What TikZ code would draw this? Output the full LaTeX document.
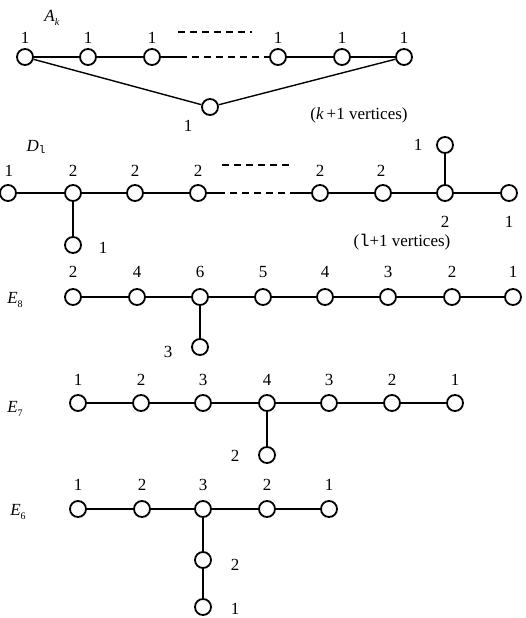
\documentclass[tikz,border=0pt]{standalone}
\usepackage{fontspec}
\setmainfont{Liberation Serif}
\setmonofont{Liberation Mono}
\newcommand{\lbl}[2]{\textit{#1}\raisebox{-4pt}{\fontsize{10}{11}\selectfont #2}}
\begin{document}
\begin{tikzpicture}[x=1pt,y=-1pt,
  vtx/.style={circle,draw,line width=1.8pt,minimum size=16pt,inner sep=0pt},
  num/.style={inner sep=0pt,font=\fontsize{17}{20}\selectfont},
  edge/.style={line width=1.4pt},
  dsh/.style={line width=1.4pt,dash pattern=on 7pt off 5pt}]
\useasboundingbox (0,0) rectangle (525,618);
% ---------- A_k ----------
\node[num] (Ak) at (52,18) {\lbl{A}{\textit{k}}};
\foreach \n/\x in {1/25,2/88,3/152,4/278,5/342,6/404}{
  \node[vtx] (a\n) at (\x,57) {};
  \node[num] (la\n) at (\x,38) {1};
}
\node[vtx] (a0) at (210,107) {};
\node[num] (la0) at (188,126) {1};
\node[num] (ak) at (359,115) {(\textit{k}\,+1 vertices)};
\coordinate (ad1) at (178,32); \coordinate (ad2) at (252,32);
\coordinate (am1) at (180,57); \coordinate (am2) at (264,57);
\draw[dsh] (ad1) -- (ad2);
\draw[edge] (a1) -- (a2) -- (a3) -- (am1);
\draw[dsh] (am1) -- (am2);
\draw[edge] (am2) -- (a4) -- (a5) -- (a6);
\draw[edge] (a1) -- (a0) -- (a6);
% ---------- D_l ----------
\node[num] (Dl) at (36,147) {\textit{D}\raisebox{-2pt}{\fontsize{11}{11}\selectfont\texttt{l}}};
\foreach \n/\x/\t in {1/9/1,2/73/2,3/135/2,4/198/2,5/320/2,6/381/2}{
  \node[num] (ld\n) at (\x,171) {\t};
}
\foreach \n/\x in {1/8,2/73,3/135,4/198,5/320,6/383,7/445,8/509}{
  \node[vtx] (d\n) at (\x,193) {};
}
\node[vtx] (d9) at (73,245) {};
\node[vtx] (d10) at (445,145) {};
\node[num] (ld10) at (418,145) {1};
\node[num] (ld7) at (445,222) {2};
\node[num] (ld8) at (509,222) {1};
\node[num] (ld9) at (103,248) {1};
\node[num] (dl) at (402,242) {(\texttt{l}+1 vertices)};
\coordinate (dd1) at (222,165); \coordinate (dd2) at (294,165);
\coordinate (dm1) at (218,193); \coordinate (dm2) at (292,193);
\draw[dsh] (dd1) -- (dd2);
\draw[edge] (d1) -- (d2) -- (d3) -- (d4) -- (dm1);
\draw[dsh] (dm1) -- (dm2);
\draw[edge] (dm2) -- (d5) -- (d6) -- (d7) -- (d8);
\draw[edge] (d2) -- (d9);
\draw[edge] (d7) -- (d10);
% ---------- E_8 ----------
\node[num] (E8) at (15,300) {\lbl{E}{8}};
\foreach \n/\x/\t in {1/73/2,2/137/4,3/200/6,4/263/5,5/325/4,6/388/3,7/452/2,8/513/1}{
  \node[vtx] (e\n) at (\x,297) {};
  \node[num] (le\n) at (\x,272) {\t};
}
\node[vtx] (e9) at (200,347) {};
\node[num] (le9) at (168,352) {3};
\draw[edge] (e1) -- (e2) -- (e3) -- (e4) -- (e5) -- (e6) -- (e7) -- (e8);
\draw[edge] (e3) -- (e9);
% ---------- E_7 ----------
\node[num] (E7) at (15,409) {\lbl{E}{7}};
\foreach \n/\x/\t in {1/78/1,2/141/2,3/203/3,4/267/4,5/329/3,6/392/2,7/455/1}{
  \node[vtx] (f\n) at (\x,403) {};
  \node[num] (lf\n) at (\x,380) {\t};
}
\node[vtx] (f8) at (267,455) {};
\node[num] (lf8) at (235,456) {2};
\draw[edge] (f1) -- (f2) -- (f3) -- (f4) -- (f5) -- (f6) -- (f7);
\draw[edge] (f4) -- (f8);
% ---------- E_6 ----------
\node[num] (E6) at (18,512) {\lbl{E}{6}};
\foreach \n/\x/\t in {1/78/1,2/142/2,3/203/3,4/267/2,5/329/1}{
  \node[vtx] (g\n) at (\x,509) {};
  \node[num] (lg\n) at (\x,485) {\t};
}
\node[vtx] (g6) at (203,560) {};
\node[vtx] (g7) at (203,607) {};
\node[num] (lg6) at (235,565) {2};
\node[num] (lg7) at (235,609) {1};
\draw[edge] (g1) -- (g2) -- (g3) -- (g4) -- (g5);
\draw[edge] (g3) -- (g6) -- (g7);
\end{tikzpicture}
\end{document}
